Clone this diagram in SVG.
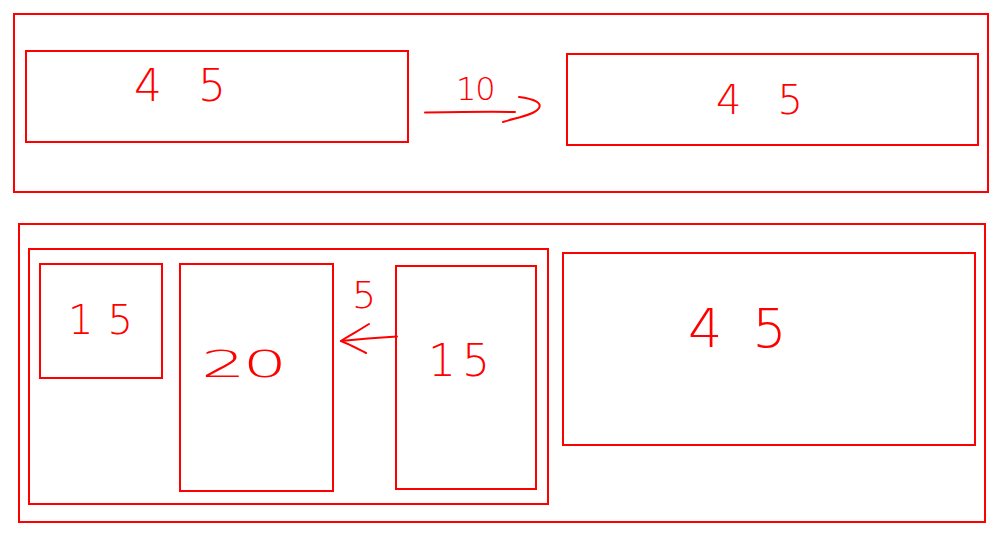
<svg xmlns="http://www.w3.org/2000/svg" width="1000" height="558" viewBox="0 0 1000 558">
<style>
.box{fill:none;stroke:#ff0000;stroke-width:2}
.ink{fill:none;stroke:#ff0000;stroke-width:2;stroke-linecap:round;stroke-linejoin:round}
.num{font-family:"DejaVu Sans","Liberation Sans",Arial,sans-serif;fill:#ff0000;font-weight:200}
</style>
<rect width="1000" height="558" fill="#ffffff"/>
<g id="top-frame"><rect class="box" x="14" y="14" width="974" height="178"/></g>
<g id="top-left"><rect class="box" x="26" y="51" width="382" height="91"/>
<text class="num" x="134" y="101" font-size="44" letter-spacing="36">45</text></g>
<g id="top-right"><rect class="box" x="567" y="54" width="411" height="91"/>
<text class="num" x="716" y="114" font-size="40" letter-spacing="36">45</text></g>
<g id="bottom-frame"><rect class="box" x="19" y="224" width="966" height="298"/></g>
<g id="bottom-container"><rect class="box" x="29" y="249" width="519" height="255"/></g>
<g id="box-15a"><rect class="box" x="40" y="264" width="122" height="114"/>
<text class="num" x="68" y="334" font-size="40" letter-spacing="14">15</text></g>
<g id="box-20"><rect class="box" x="180" y="264" width="153" height="227"/>
<text class="num" x="201" y="377" font-size="44" letter-spacing="-2" transform="translate(201 377) scale(1.6 0.85) translate(-201 -377)">20</text></g>
<g id="box-15b"><rect class="box" x="396" y="266" width="140" height="223"/>
<text class="num" x="428" y="376" font-size="44" letter-spacing="6">15</text></g>
<g id="box-45"><rect class="box" x="563" y="253" width="412" height="192"/>
<text class="num" x="688" y="347" font-size="54" letter-spacing="30">45</text></g>
<g id="connectors">
<path class="ink" d="M425,112.5 C455,112 490,111.5 515,112"/>
<path class="ink" d="M519,97 C535,99 542,103 539,108 C535,115 515,118 503,122"/>
<text class="num" x="456" y="100" font-size="32" letter-spacing="-1">10</text>
<path class="ink" d="M397,336.5 C380,337.5 360,339 341,341"/>
<path class="ink" d="M369,324 C360,330 348,336 341,341 C349,344 358,349 366,353"/>
<text class="num" x="352" y="308" font-size="38">5</text>
</g>
</svg>
